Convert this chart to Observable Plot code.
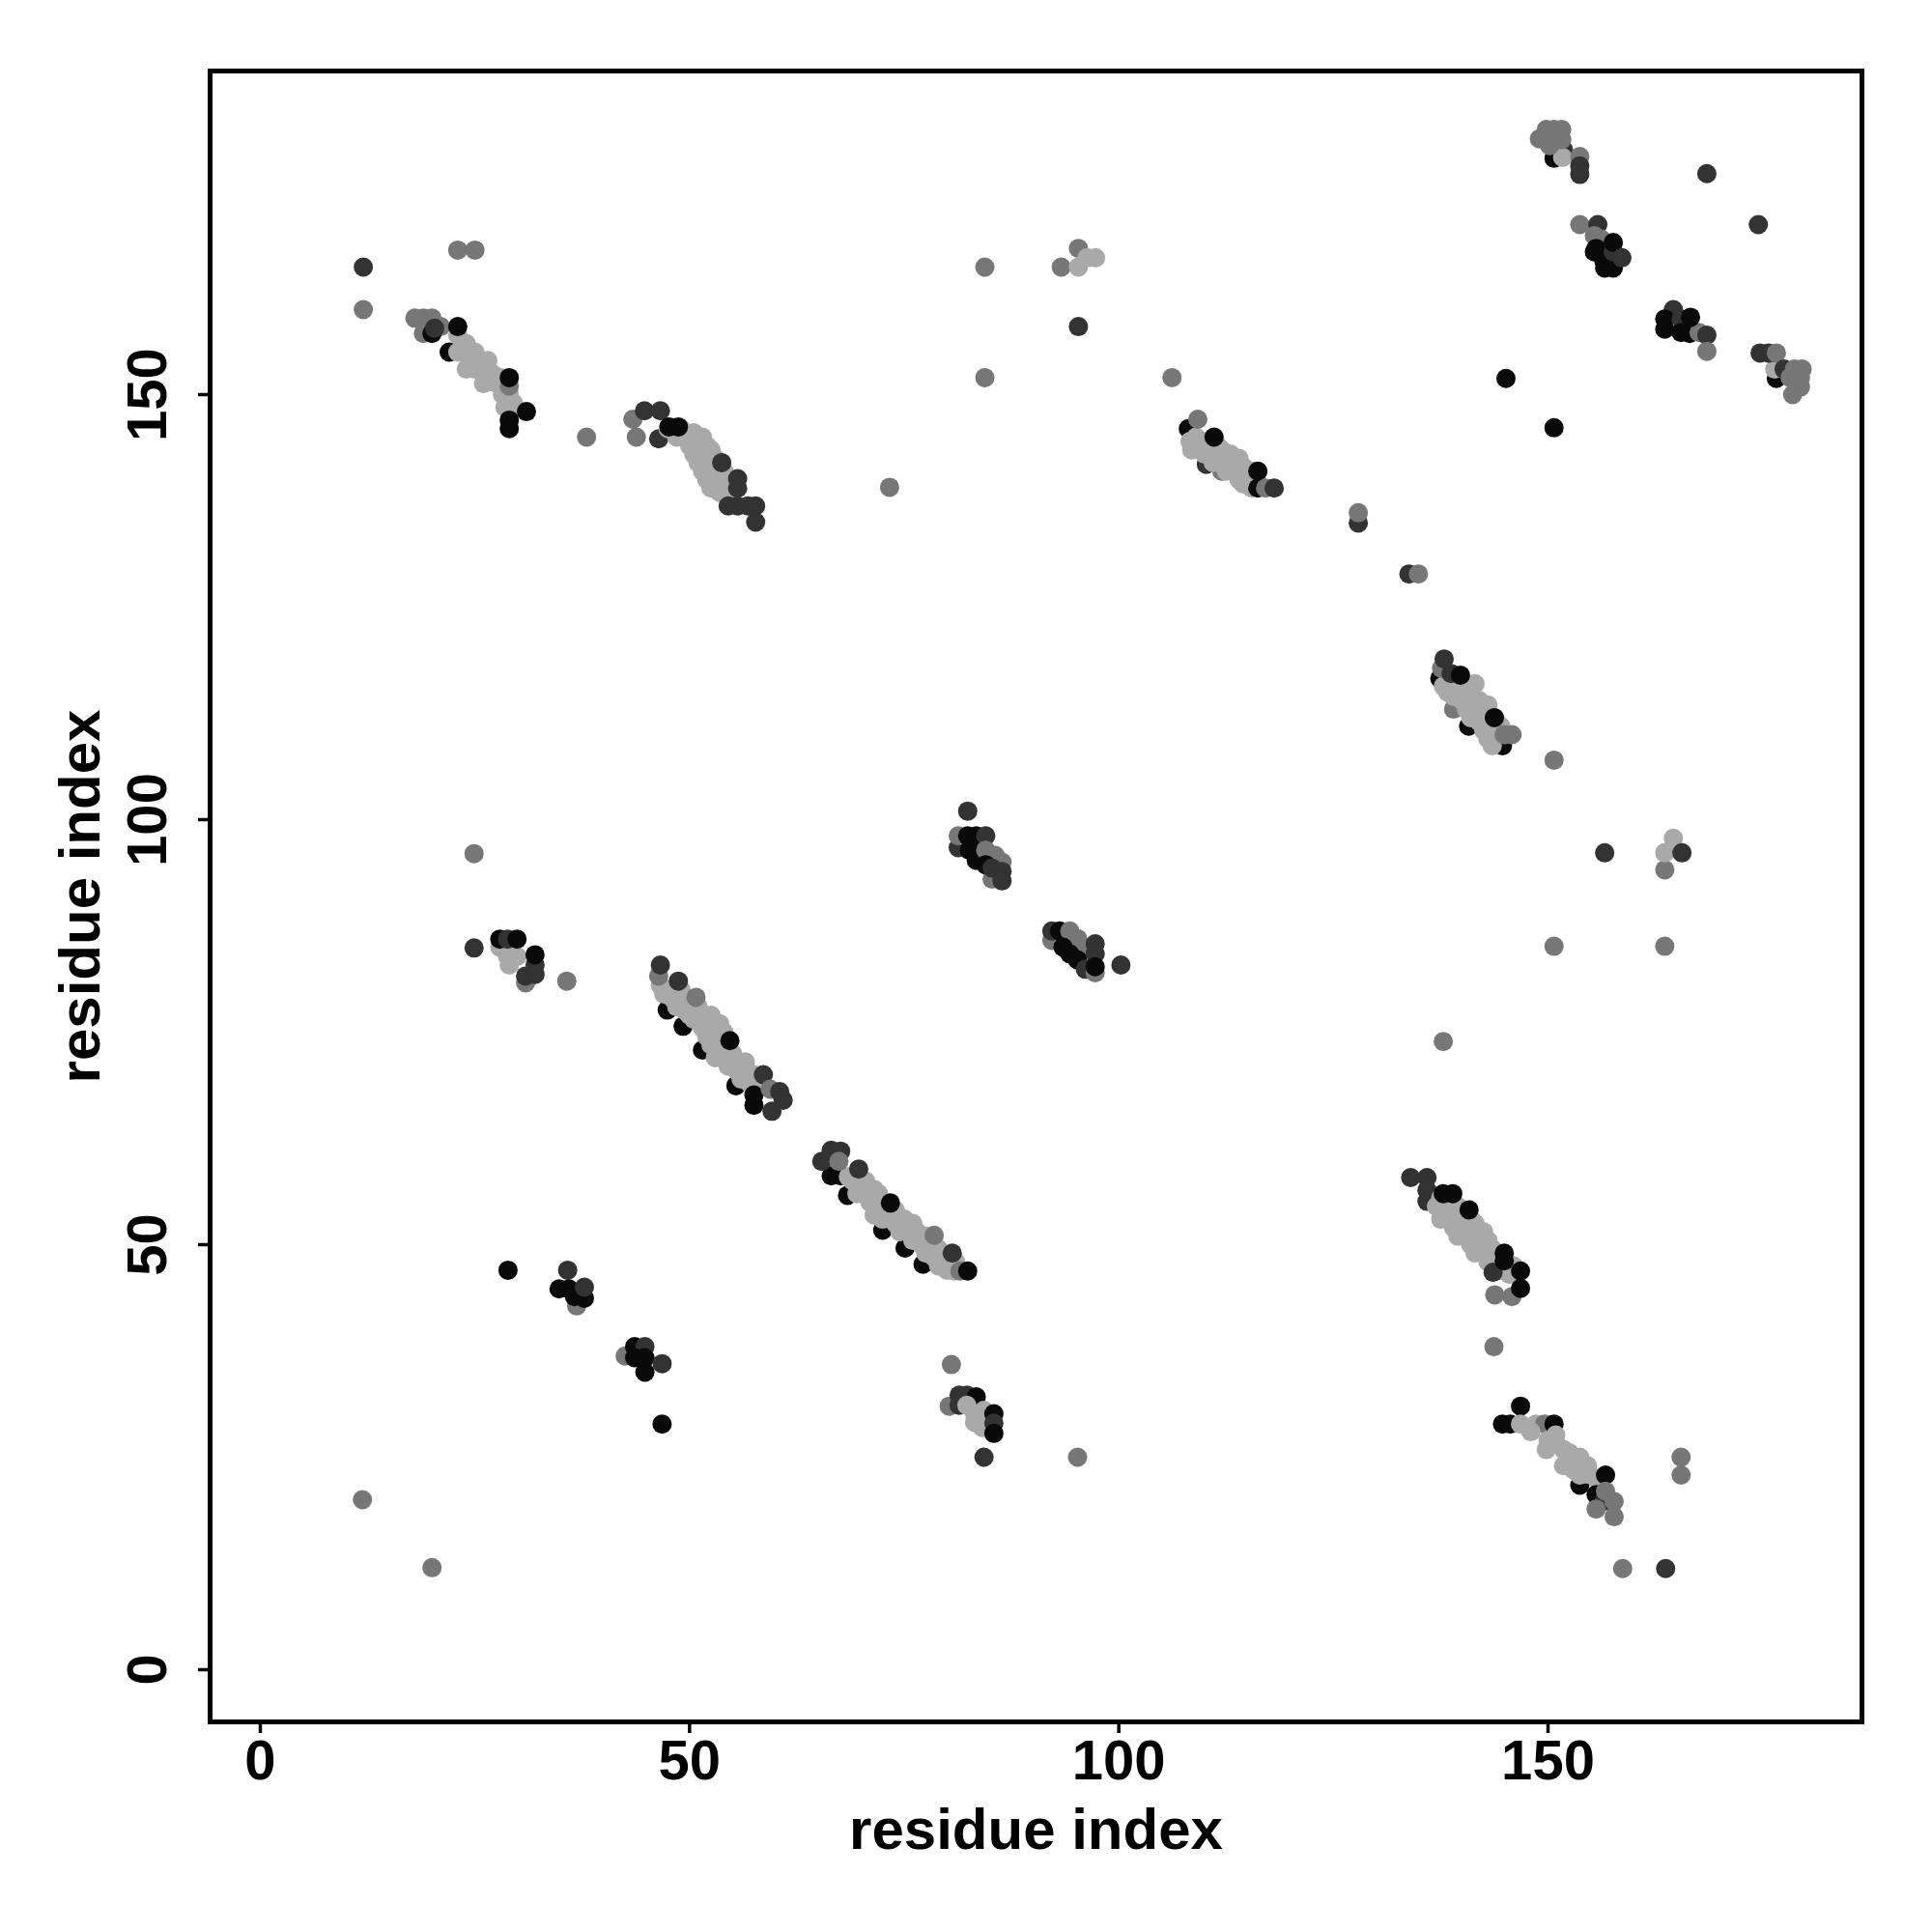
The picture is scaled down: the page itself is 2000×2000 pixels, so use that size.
<!DOCTYPE html>
<html>
<head>
<meta charset="utf-8">
<script src="https://cdn.jsdelivr.net/npm/d3@7"></script>
<script src="https://cdn.jsdelivr.net/npm/@observablehq/plot@0.6"></script>
<style>
  html, body { margin: 0; padding: 0; background: #ffffff; }
</style>
</head>
<body>
<div id="chart"></div>
<script>
// ---- data: [residue i, residue j, shade code] ----
const shadeCodes = ["k", "d", "m", "l"];
const shadeColors = ["#0a0a0a", "#333333", "#777777", "#a9a9a9"];
const xTicks = [0, 50, 100, 150];
const yTicks = [0, 50, 100, 150];

const clusterA = [
  [12,165,"d"],[12,160,"m"],[23,167,"m"],[25,167,"m"],
  [18,159,"m"],[19,159,"m"],[20,159,"m"],[21,158,"m"],[19,157.2,"m"],[20,157.2,"k"],[20.3,157.8,"d"],
  [22,155,"k"],
  [23,157,"l"],[23,155,"l"],[24,155,"l"],[25,155,"l"],[24,153,"l"],[25,153,"l"],[26,153,"l"],[26,151.3,"l"],
  [28,152,"l"],[28.2,150,"l"],[29,150,"l"],[29,148,"l"],
  [24,156,"l"],[25.5,154,"l"],[26.5,154,"l"],[27,152.5,"l"],[27,151.5,"l"],[28,151,"l"],[29.5,149,"l"],[28.5,148.5,"l"],
  [23,158,"k"],[29,151,"m"],[29,152,"k"],[31,148,"k"],[29,147,"k"],[29,146,"k"]
];
const clusterB = [
  [38,145,"m"],[73.3,139.1,"m"],
  [43.4,147.1,"m"],[43.8,145,"m"],[46.4,144.8,"d"],
  [47.5,146,"l"],[48.5,145,"l"],[49.5,145,"l"],[50,144,"l"],[51,144,"l"],[50.5,143,"l"],[51.5,143,"l"],
  [52,142,"l"],[51,142,"l"],[51.5,141,"l"],[52.5,141,"l"],[52,140,"l"],[53,140,"l"],[53,139,"l"],
  [54,139,"l"],[52.5,139,"l"],[54.5,138.5,"l"],
  [49,146,"l"],[50.5,145.5,"l"],[51.5,145,"l"],[52,144,"l"],[52.5,143.5,"l"],[53,142.5,"l"],
  [53.5,141.5,"l"],[54,141,"l"],[54.5,140,"l"],[55,139.5,"l"],[53.5,138.5,"l"],
  [44.75,148.1,"d"],[46.6,148.1,"d"],[47.6,146.2,"k"],[48.7,146.2,"k"],
  [53.75,142,"d"],[55.6,140.1,"d"],[55.6,139,"d"],[54.5,136.9,"d"],[55.6,136.9,"d"],[56.8,136.9,"d"],
  [57.7,136.9,"d"],[57.7,135,"d"]
];
const clusterC = [
  [84.4,165,"m"],[93.3,165,"m"],[95.3,167.2,"m"],[95.3,165,"l"],[96.3,166.1,"l"],[97.3,166.1,"l"],
  [95.3,158,"d"],[84.4,152,"m"],[106.2,152,"m"]
];
const clusterD = [
  [108.1,146,"k"],[110.2,141.8,"d"],[112,141,"m"],
  [108.3,144.5,"l"],[108.5,143.5,"l"],[109.5,144,"l"],[110,143,"l"],[111,143,"l"],[111,142,"l"],
  [112,142,"l"],[113,142,"l"],[112.5,141,"l"],[113.5,141,"l"],[114,140,"l"],[115,140,"l"],
  [114.5,139.5,"l"],[115.5,139,"l"],
  [109,145,"l"],[110,144.5,"l"],[111.5,144,"l"],[112,143.5,"l"],[113,143,"l"],[114,142.5,"l"],
  [114.5,141.5,"l"],[115.5,141,"l"],[116,140,"l"],
  [109.2,147.1,"m"],[111.1,145,"k"],[116.2,141,"k"],[116.2,139,"k"],[117.1,139,"m"],[118.1,139,"d"],
  [127.9,134.9,"d"],[127.9,136.1,"m"],[133.8,128.9,"d"],[134.9,128.9,"m"]
];
const clusterE = [
  [150.7,177.8,"k"],[151.8,178.8,"d"],[151.7,177.9,"l"],[149,180.1,"m"],[149.8,181.2,"m"],
  [150.7,181.2,"m"],[151.6,181.2,"m"],[151.6,180,"m"],[150.2,179.3,"m"],[153.7,178,"m"],
  [153.7,176.9,"d"],[153.7,175.9,"d"]
];
const clusterF = [
  [153.7,170,"m"],[155.8,170,"d"],[155.4,168.7,"m"],[156.2,168.3,"m"],[155.6,167.2,"k"],[155.4,166.8,"k"],
  [156.5,165.7,"k"],[157.6,164.9,"k"],[156.6,164.9,"k"],[157.6,166.8,"d"],[157.6,167.9,"k"],[158.6,166.1,"d"],
  [168.5,176,"d"],[174.5,170,"d"]
];
const clusterG = [
  [164.6,160,"d"],[163.6,158.9,"k"],[163.6,157.7,"k"],[165.5,158.9,"d"],[165.5,157.3,"k"],[166.5,157.2,"k"],
  [167.6,157.3,"m"],[166.6,159.1,"k"],[168.5,157,"d"],[168.5,155.1,"m"]
];
const clusterH = [
  [176.6,151.9,"k"],[176.4,153,"l"],[174.7,154.9,"d"],[175.7,154.9,"d"],[176.6,154.9,"m"],[177.5,153,"d"],
  [178.7,153,"m"],[179.6,153,"m"],[179.4,152,"m"],[178.2,152,"m"],[179.4,150.9,"m"],[178.5,150,"m"],
  [145.1,151.9,"k"],[150.7,146.1,"k"]
];
const clusterI = [
  [137.4,116.6,"k"],[140.75,111,"k"],[144.7,108.7,"k"],[139,113,"m"],
  [137.8,115.7,"l"],[138.3,115,"l"],[139,114.5,"l"],[139.5,115.5,"l"],[140,114,"l"],[140.5,113,"l"],
  [141,112,"l"],[141.5,113,"l"],[142.3,112,"l"],[142,111.5,"l"],[142.5,110.5,"l"],[143,109.5,"l"],
  [143.5,108.7,"l"],[141,115,"l"],[142,114,"l"],[142.5,113,"l"],[143,111,"l"],[143.5,110.5,"l"],
  [140,116,"l"],[141.5,116,"l"],[143,113.5,"l"],[144,111.5,"l"],[144.5,111,"l"],
  [137.6,117.8,"m"],[137.9,118.9,"d"],[138.7,117.2,"d"],[139.8,117,"k"],[143.75,112,"k"],
  [144.9,110,"m"],[145.8,110,"m"]
];
const clusterJ = [
  [82.4,101,"d"],
  [81.3,96.7,"d"],[81.3,98.1,"m"],[82.6,96.4,"k"],[82.4,98.1,"k"],[83.4,98.1,"k"],[84.5,98.1,"d"],
  [83.4,95.2,"k"],[84.5,96.4,"m"],[85.6,95.8,"m"],[86.4,95,"m"],[84.5,94.7,"k"],[85.25,93,"m"],
  [85.25,94.3,"d"],[86.4,93.9,"d"],[86.4,92.8,"d"]
];
const clusterK = [
  [92.2,85.8,"m"],[92.2,86.9,"d"],[93.1,86.9,"k"],[94.3,86.9,"m"],[95.2,86,"m"],[96.1,85,"m"],
  [93.5,85,"k"],[94.3,84.2,"k"],[95.2,83.5,"k"],[97.25,85.4,"d"],[97.25,84.2,"d"],[96.1,82.4,"d"],
  [97.25,82,"m"],[97.25,82.7,"k"],[100.25,82.9,"d"]
];
const clusterL = [
  [24.9,96,"m"],[24.9,84.9,"d"],[27.9,85,"l"],[28.8,83.9,"l"],[29,82.9,"l"],[29.9,83.9,"l"],
  [27.9,85.95,"k"],[28.8,85.95,"d"],[29.9,85.95,"k"],[30.9,80.8,"m"],[30.9,81.6,"d"],[32,81.8,"d"],
  [32,82.9,"d"],[32,84.1,"k"],[35.7,81,"m"]
];
const clusterM = [
  [47.4,77.6,"k"],[49.25,75.7,"k"],[51.5,72.9,"k"],[55.4,68.7,"k"],
  [46.6,80.5,"l"],[47,79.5,"l"],[48,79,"l"],[48.5,78,"l"],[49.5,77.5,"l"],[50,78.5,"l"],[50.5,76.5,"l"],
  [51.5,77,"l"],[51.5,75.5,"l"],[52,74.5,"l"],[52.5,73.5,"l"],[53.5,73,"l"],[53,72,"l"],[54,72,"l"],
  [54.5,71,"l"],[55.5,70.5,"l"],[56,69.5,"l"],[57,69,"l"],[56.5,70.5,"l"],
  [48,80,"l"],[49,79.5,"l"],[49,80,"l"],[50,77,"l"],[51,78,"l"],[52,76,"l"],[52.5,77,"l"],[53,75,"l"],
  [53.5,74,"l"],[54.5,73,"l"],[55,72.5,"l"],[55.5,71.5,"l"],[56.5,71.5,"l"],[57.5,70,"l"],[58,69.5,"l"],
  [54,75,"l"],[53.5,76,"l"],
  [46.4,81.6,"m"],[46.6,82.9,"d"],[48.7,81,"d"],[50.75,79.1,"m"],[54.7,74,"k"],[58.6,70,"d"],
  [57.5,67.6,"k"],[57.5,66.4,"k"],[59.4,68.3,"m"],[60.5,68,"d"],[59.6,65.7,"d"],[60.9,67,"d"]
];
const clusterN = [
  [66.5,58.1,"k"],[67.6,58.1,"k"],[68.4,55.8,"k"],[72.5,51.7,"k"],[75.1,49.6,"k"],[77.2,47.7,"k"],
  [69,57.5,"l"],[70,57,"l"],[69.5,56,"l"],[70.5,56,"l"],[71,55,"l"],[72,54.5,"l"],[71.5,53.5,"l"],
  [72.5,53,"l"],[73.5,53.5,"l"],[74,52.5,"l"],[74.5,51.5,"l"],[75.5,51.5,"l"],[76,50.5,"l"],[77,50,"l"],
  [77.5,49,"l"],[78.5,48.5,"l"],[79,47.5,"l"],[80,47,"l"],[80.8,46.9,"l"],
  [68.5,58,"l"],[70.5,57.5,"l"],[71.5,56.5,"l"],[72,56,"l"],[72.5,55,"l"],[73,54,"l"],[74,54,"l"],
  [75,53,"l"],[76,52.5,"l"],[76.5,51.5,"l"],[77.5,51,"l"],[78,50,"l"],[79,49.5,"l"],[79.5,48.5,"l"],
  [80,48.5,"l"],[81,48,"l"],
  [65.4,59.8,"d"],[66.5,61.1,"d"],[67.6,61,"d"],[67.4,59.8,"m"],[69.7,58.9,"d"],[73.4,54.9,"k"],
  [78.5,51.1,"m"],[80.6,49,"d"],[81.5,46.9,"m"],[82.4,46.9,"k"]
];
const clusterO = [
  [36.85,42.8,"m"],[35.8,47,"d"],[34.8,44.8,"k"],[35.95,44.8,"k"],[36.6,43.9,"k"],[37.75,43.7,"k"],[37.75,45,"d"]
];
const clusterP = [
  [42.5,36.9,"m"],[43.6,38,"k"],[44.8,38,"d"],[43.6,36.7,"k"],[44.8,36.7,"k"],[44.8,35,"k"],[46.8,36,"d"]
];
const clusterQ = [
  [80.25,31,"m"],[81.4,32.3,"d"],[82.3,32.3,"d"],[83.4,32.1,"k"],[81.4,31.1,"d"],[82.3,31.1,"l"],
  [83.2,30.1,"l"],[83.2,29.1,"l"],[84.1,28.5,"l"],[84.3,30.5,"l"],[85.45,30.1,"k"],[85.45,29,"d"],[85.45,27.8,"k"]
];
const clusterR = [
  [134,57.9,"d"],[135.9,57.9,"d"],[135.9,56.4,"d"],[135.9,55.1,"d"],
  [137,54.5,"l"],[138,54,"l"],[137.5,53,"l"],[138.5,53,"l"],[139,52,"l"],[140,52,"l"],[139.5,51,"l"],
  [140.5,51,"l"],[141,50,"l"],[142,50,"l"],[141.5,49,"l"],[142.5,49,"l"],[143,48,"l"],[144,48,"l"],
  [144.5,47,"l"],[145.5,46.5,"l"],[141,53,"l"],[142,51.5,"l"],[140,53.5,"l"],
  [137.5,55.5,"l"],[138.5,55,"l"],[139.5,54.5,"l"],[140.5,53,"l"],[141.5,52.5,"l"],[142.5,51.5,"l"],
  [143,50.5,"l"],[143.5,49.5,"l"],[145,47.5,"l"],[146,47.5,"l"],[139,53.5,"l"],
  [137.8,56,"k"],[138.9,56,"k"],[140.8,54.1,"k"],[143.6,46.75,"d"],[144.9,49,"k"],[144.9,48.1,"k"],
  [146.8,46.9,"k"],[143.8,44.1,"m"],[145.8,43.9,"m"],[146.8,44.85,"k"]
];
const clusterS = [
  [153.7,21.7,"k"],
  [146.8,31,"k"],[144.7,28.9,"k"],[145.6,28.9,"k"],[146.8,28.9,"l"],[148.6,28.9,"l"],[149.6,28.9,"m"],
  [150.7,28.9,"k"],[150.9,27.6,"l"],[149.8,25.9,"l"],[151.8,25.9,"l"],[151.8,24,"l"],[153.7,25,"l"],
  [153.7,22.9,"l"],[155.6,22.5,"l"],[148,28,"l"],[150,27,"l"],[151,26.5,"l"],[152.5,25.5,"l"],
  [152.5,24,"l"],[153,23.5,"l"],[154.5,23,"l"],[154.6,24,"l"],
  [156.7,22.9,"k"],[155.6,20.6,"k"],[156.5,19.8,"d"],[155.6,18.9,"m"],
  [156.7,21,"m"],[157.7,19.8,"m"],[157.7,18,"m"]
];
const isolated = [
  [150.7,107,"m"],[156.6,96.1,"d"],[163.6,94.1,"m"],[163.6,96.1,"l"],[164.6,97.8,"l"],[165.6,96.1,"d"],
  [150.7,85.1,"m"],[163.6,85.1,"m"],[137.8,73.9,"m"],
  [11.9,20,"m"],[20,12,"m"],[95.2,25,"m"],[84.3,25,"d"],[158.7,11.9,"m"],[163.7,11.9,"d"],
  [165.5,25,"m"],[165.5,22.9,"m"],[28.85,47,"k"],[80.5,35.9,"m"],[46.8,28.9,"k"],[143.7,38,"m"]
];

const contacts = [
  clusterA, clusterB, clusterC, clusterD, clusterE, clusterF, clusterG, clusterH, clusterI,
  clusterJ, clusterK, clusterL, clusterM, clusterN, clusterO, clusterP, clusterQ, clusterR,
  clusterS, isolated
].flat().map(([x, y, shade]) => ({x, y, shade}));

const font = "'Liberation Sans', Arial, Helvetica, sans-serif";

const chart = Plot.plot({
  width: 2000,
  height: 2000,
  marginLeft: 217,
  marginRight: 73,
  marginTop: 73,
  marginBottom: 218,
  style: {background: "#ffffff", fontFamily: font},
  x: {domain: [-5.85, 186.57], axis: null},
  y: {domain: [-6.14, 188.07], axis: null},
  color: {type: "ordinal", domain: shadeCodes, range: shadeColors},
  marks: [
    Plot.dot(contacts, {x: "x", y: "y", fill: "shade", r: 10, stroke: "none"}),
    Plot.frame({stroke: "#000000", strokeWidth: 5}),
    Plot.axisX({
      ticks: xTicks, tickSize: 12, tickPadding: 6, strokeWidth: 3.5,
      tickFormat: d => String(d), label: null,
      fontSize: 58, fontWeight: "bold", fontFamily: font, fill: "#000000"
    }),
    Plot.axisY({
      ticks: yTicks, tickSize: 12, strokeWidth: 3.5,
      tickFormat: () => "", label: null
    }),
    Plot.text(yTicks, {
      y: d => d, text: d => String(d), frameAnchor: "left", dx: -46,
      rotate: -90, textAnchor: "middle", lineAnchor: "bottom",
      fontSize: 58, fontWeight: "bold", fontFamily: font, fill: "#000000"
    }),
    Plot.text(["residue index"], {
      frameAnchor: "bottom", dy: 131, textAnchor: "middle", lineAnchor: "bottom",
      fontSize: 60, fontWeight: "bold", fontFamily: font, fill: "#000000"
    }),
    Plot.text(["residue index"], {
      frameAnchor: "left", dx: -115, rotate: -90, textAnchor: "middle", lineAnchor: "bottom",
      fontSize: 60, fontWeight: "bold", fontFamily: font, fill: "#000000"
    })
  ]
});
document.getElementById("chart").appendChild(chart);
</script>
</body>
</html>
